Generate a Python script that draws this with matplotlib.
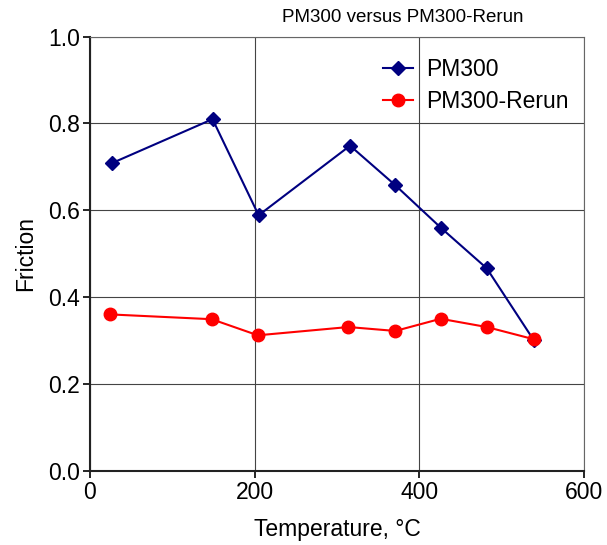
import matplotlib.pyplot as plt

plt.rcParams['font.family'] = ['Liberation Sans', 'DejaVu Sans']

# Data
temp_pm300 = [27, 149, 205, 316, 371, 427, 482, 539]
friction_pm300 = [0.709, 0.810, 0.589, 0.749, 0.658, 0.559, 0.467, 0.302]
temp_rerun = [25, 148, 204, 314, 371, 426, 482, 539]
friction_rerun = [0.361, 0.350, 0.313, 0.332, 0.323, 0.351, 0.332, 0.304]

fig = plt.figure(figsize=(6.07, 5.45), dpi=100)
ax = fig.add_axes([0.148, 0.135, 0.814, 0.798])

ax.plot(temp_pm300, friction_pm300, color='#000080', marker='D', markersize=7,
        linewidth=1.5, label='PM300')
ax.plot(temp_rerun, friction_rerun, color='#ff0000', marker='o', markersize=9,
        linewidth=1.5, label='PM300-Rerun')

ax.set_xlim(0, 600)
ax.set_ylim(0, 1.0)
ax.set_xticks([0, 200, 400, 600])
ax.set_yticks([0.0, 0.2, 0.4, 0.6, 0.8, 1.0])
ax.set_yticklabels(['0.0', '0.2', '0.4', '0.6', '0.8', '1.0'])
ax.tick_params(labelsize=16.5, direction='out', length=5, width=1.2, pad=2)
ax.grid(True, color='#444444', linewidth=0.8)

for side in ['left', 'bottom']:
    ax.spines[side].set_linewidth(1.5)
    ax.spines[side].set_color('#222222')
for side in ['top', 'right']:
    ax.spines[side].set_linewidth(0.8)
    ax.spines[side].set_color('#666666')

ax.set_xlabel('Temperature, °C', fontsize=16.5, labelpad=10)
ax.set_ylabel('Friction', fontsize=16.5, labelpad=8)
fig.text(0.663, 0.968, 'PM300 versus PM300-Rerun', fontsize=13.5,
         ha='center', va='center')

ax.legend(loc='upper left', bbox_to_anchor=(0.593, 0.95), frameon=False,
          fontsize=16.5, handlelength=1.3, handletextpad=0.6,
          labelspacing=0.4, borderpad=0, borderaxespad=0)

plt.savefig('out.png', dpi=100)
